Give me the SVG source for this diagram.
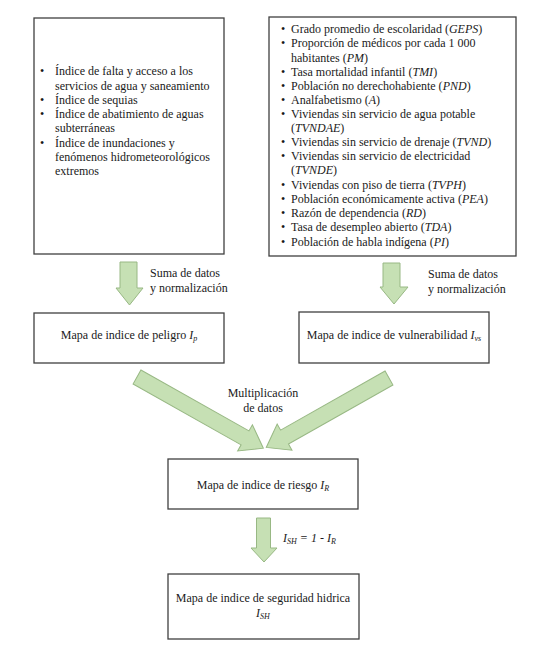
<svg xmlns="http://www.w3.org/2000/svg" width="536" height="662" viewBox="0 0 536 662" font-family="Liberation Serif, Tinos, Noto Serif, DejaVu Serif, serif">
<style>
.box{fill:#fff;stroke:#404040;stroke-width:1.3}
.t{font-family:'Liberation Serif',Tinos,'Noto Serif','DejaVu Serif',serif;font-size:12px;fill:#1a1a1a}
.i{font-style:italic}
.arr{fill:#c6e0b4;stroke:#98b884;stroke-width:1}
.c{text-anchor:middle}
</style>
<rect width="536" height="662" fill="#fff"/>
<g id="connectors">
<polygon class="arr" points="120,262 137,262 137,288 143,288 129.5,305 116,288 120,288"/>
<polygon class="arr" points="383,263 400,263 400,287 408,287 394,304 380,287 383,287"/>
<polygon class="arr" points="256.5,518 270.5,518 270.5,548 277,548 264,562 251,548 256.5,548"/>
<polygon class="arr" transform="translate(137,377) rotate(29.4)" points="0,-8 124,-8 124,-15 145,0 124,15 124,8 0,8"/>
<polygon class="arr" transform="translate(389,378) rotate(150.5)" points="0,-8 120,-8 120,-15 141,0 120,15 120,8 0,8"/>
<text class="t" x="150" y="277">Suma de datos</text>
<text class="t" x="150" y="292">y normalización</text>
<text class="t" x="428" y="278">Suma de datos</text>
<text class="t" x="428" y="293">y normalización</text>
<text class="t c" x="263" y="397">Multiplicación</text>
<text class="t c" x="263" y="412">de datos</text>
<text class="t i" x="283" y="542">I<tspan font-size="8" dy="2">SH</tspan><tspan dy="-2"> = 1 - I</tspan><tspan font-size="8" dy="2">R</tspan></text>
</g>
<g id="hazard-inputs">
<rect class="box" x="34" y="18" width="190" height="236"/>
<text class="t" x="40" y="75">•</text><text class="t" x="55" y="75">Índice de falta y acceso a los</text>
<text class="t" x="55" y="89.5">servicios de agua y saneamiento</text>
<text class="t" x="40" y="104">•</text><text class="t" x="55" y="104">Índice de sequias</text>
<text class="t" x="40" y="118">•</text><text class="t" x="55" y="118">Índice de abatimiento  de aguas</text>
<text class="t" x="55" y="132">subterráneas</text>
<text class="t" x="40" y="146.5">•</text><text class="t" x="55" y="146.5">Índice de inundaciones  y</text>
<text class="t" x="55" y="161">fenómenos hidrometeorológicos</text>
<text class="t" x="55" y="175">extremos</text>
</g>
<g id="vulnerability-inputs">
<rect class="box" x="269" y="17" width="247" height="239"/>
<text class="t" x="281" y="33">•</text><text class="t" x="291" y="33">Grado promedio de escolaridad  (<tspan class="i">GEPS</tspan>)</text>
<text class="t" x="281" y="47">•</text><text class="t" x="291" y="47">Proporción de médicos por cada 1 000</text>
<text class="t" x="291" y="61.5">habitantes  (<tspan class="i">PM</tspan>)</text>
<text class="t" x="281" y="75.5">•</text><text class="t" x="291" y="75.5">Tasa mortalidad  infantil  (<tspan class="i">TMI</tspan>)</text>
<text class="t" x="281" y="89.5">•</text><text class="t" x="291" y="89.5">Población  no derechohabiente  (<tspan class="i">PND</tspan>)</text>
<text class="t" x="281" y="104">•</text><text class="t" x="291" y="104">Analfabetismo  (<tspan class="i">A</tspan>)</text>
<text class="t" x="281" y="118">•</text><text class="t" x="291" y="118">Viviendas  sin servicio de agua potable</text>
<text class="t" x="291" y="132">(<tspan class="i">TVNDAE</tspan>)</text>
<text class="t" x="281" y="146">•</text><text class="t" x="291" y="146">Viviendas  sin servicio de drenaje  (<tspan class="i">TVND</tspan>)</text>
<text class="t" x="281" y="160">•</text><text class="t" x="291" y="160">Viviendas  sin servicio de electricidad</text>
<text class="t" x="291" y="174">(<tspan class="i">TVNDE</tspan>)</text>
<text class="t" x="281" y="188.5">•</text><text class="t" x="291" y="188.5">Viviendas  con piso de tierra (<tspan class="i">TVPH</tspan>)</text>
<text class="t" x="281" y="203">•</text><text class="t" x="291" y="203">Población  económicamente activa (<tspan class="i">PEA</tspan>)</text>
<text class="t" x="281" y="217">•</text><text class="t" x="291" y="217">Razón de dependencia  (<tspan class="i">RD</tspan>)</text>
<text class="t" x="281" y="231">•</text><text class="t" x="291" y="231">Tasa de desempleo  abierto  (<tspan class="i">TDA</tspan>)</text>
<text class="t" x="281" y="245.5">•</text><text class="t" x="291" y="245.5">Población  de habla indígena  (<tspan class="i">PI</tspan>)</text>
</g>
<g id="hazard-map">
<rect class="box" x="34" y="313" width="190" height="50"/>
<text class="t c" x="129" y="339">Mapa de indice de peligro  <tspan class="i">I</tspan><tspan class="i" font-size="8" dy="2">p</tspan></text>
</g>
<g id="vulnerability-map">
<rect class="box" x="299" y="312" width="190" height="51"/>
<text class="t c" x="394" y="339">Mapa de indice de vulnerabilidad  <tspan class="i">I</tspan><tspan class="i" font-size="8" dy="2">vs</tspan></text>
</g>
<g id="risk-map">
<rect class="box" x="168" y="459" width="190" height="50"/>
<text class="t c" x="263" y="489">Mapa de indice de riesgo <tspan class="i">I</tspan><tspan class="i" font-size="8" dy="2">R</tspan></text>
</g>
<g id="security-map">
<rect class="box" x="168" y="574" width="191" height="65"/>
<text class="t c" x="263" y="602">Mapa de indice de seguridad hidrica</text>
<text class="t c i" x="263" y="617">I<tspan font-size="8" dy="2">SH</tspan></text>
</g>
</svg>
